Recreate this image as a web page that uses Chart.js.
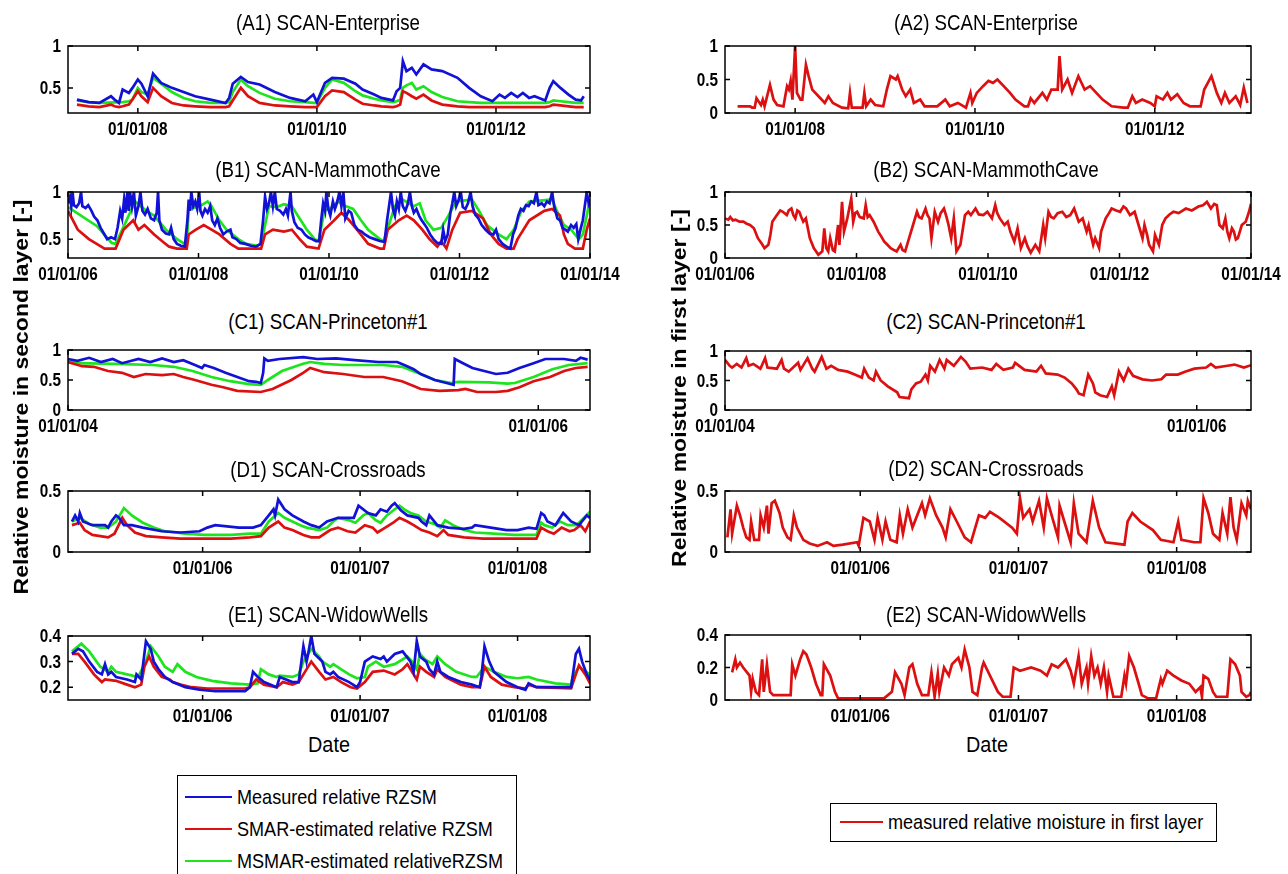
<!DOCTYPE html>
<html>
<head>
<meta charset="utf-8">
<script src="https://cdn.jsdelivr.net/npm/chart.js@4.4.1/dist/chart.umd.min.js"></script>
<style>
  body { margin: 0; background: #fff; width: 1288px; height: 874px; position: relative; overflow: hidden;
         font-family: 'Liberation Sans', Arial, sans-serif; color: #000; }
  canvas { position: absolute; }
  .title { position: absolute; width: 400px; text-align: center; font-size: 22px; line-height: 24px; white-space: nowrap;
           transform: scaleX(0.85); }
  .ylab { position: absolute; width: 500px; height: 26px; line-height: 26px; text-align: center; font-size: 23px;
          font-weight: bold; transform: rotate(-90deg) scaleY(0.85); white-space: nowrap; }
  .xlab { position: absolute; width: 200px; text-align: center; font-size: 22px; line-height: 24px; transform: scaleX(0.9); }
  .legend { position: absolute; border: 1.5px solid #000; background: #fff; }
  .entry { position: absolute; font-size: 21px; line-height: 24px; white-space: nowrap; transform: scaleX(0.86); transform-origin: 0 50%; }
  .swatch { position: absolute; height: 0; border-top: 2.5px solid; }
</style>
</head>
<body>
<script>
// Colours
const BLUE = '#1212d6';
const RED = '#dc1010';
const GREEN = '#1ee41e';

// Tick values
const xTicksA = [2008, 2010, 2012];
const xTicksB = [2006, 2008, 2010, 2012, 2014];
const xTicksC = [2004, 2006];
const xTicksDE = [2006, 2007, 2008];

// Series: [decimal year, relative moisture]
// (A1/A2) SCAN-Enterprise
const a1Measured = [[2007.32,0.36],[2007.45,0.33],[2007.57,0.32],[2007.70,0.40],[2007.74,0.36],[2007.79,0.32],[2007.83,0.48],[2007.90,0.44],[2007.94,0.50],[2008.00,0.60],[2008.04,0.55],[2008.11,0.40],[2008.17,0.67],[2008.26,0.56],[2008.38,0.50],[2008.51,0.45],[2008.64,0.40],[2008.81,0.36],[2008.98,0.32],[2009.02,0.38],[2009.06,0.55],[2009.15,0.63],[2009.23,0.57],[2009.36,0.54],[2009.53,0.45],[2009.70,0.38],[2009.87,0.34],[2009.96,0.42],[2010.00,0.33],[2010.09,0.56],[2010.17,0.62],[2010.30,0.61],[2010.43,0.55],[2010.51,0.48],[2010.64,0.42],[2010.72,0.38],[2010.85,0.35],[2010.89,0.46],[2010.93,0.50],[2010.96,0.82],[2011.00,0.70],[2011.06,0.74],[2011.11,0.66],[2011.19,0.78],[2011.28,0.72],[2011.40,0.70],[2011.57,0.62],[2011.70,0.50],[2011.83,0.40],[2011.96,0.34],[2012.04,0.42],[2012.10,0.38],[2012.17,0.44],[2012.24,0.39],[2012.30,0.44],[2012.37,0.38],[2012.43,0.40],[2012.55,0.35],[2012.60,0.50],[2012.64,0.58],[2012.72,0.50],[2012.81,0.42],[2012.89,0.36],[2012.95,0.35],[2012.98,0.40]];
const a1Smar = [[2007.32,0.30],[2007.45,0.28],[2007.57,0.27],[2007.70,0.30],[2007.74,0.28],[2007.79,0.27],[2007.83,0.28],[2007.90,0.30],[2007.94,0.36],[2008.00,0.46],[2008.04,0.40],[2008.11,0.33],[2008.17,0.50],[2008.26,0.40],[2008.38,0.32],[2008.51,0.29],[2008.64,0.28],[2008.81,0.27],[2008.98,0.27],[2009.02,0.28],[2009.06,0.35],[2009.15,0.50],[2009.23,0.40],[2009.36,0.32],[2009.53,0.29],[2009.70,0.28],[2009.87,0.27],[2009.96,0.27],[2010.00,0.27],[2010.09,0.40],[2010.17,0.47],[2010.30,0.45],[2010.43,0.36],[2010.51,0.31],[2010.64,0.29],[2010.72,0.28],[2010.85,0.27],[2010.89,0.28],[2010.93,0.30],[2010.96,0.46],[2011.00,0.44],[2011.06,0.40],[2011.11,0.37],[2011.19,0.42],[2011.28,0.35],[2011.40,0.30],[2011.57,0.28],[2011.70,0.27],[2011.83,0.27],[2011.96,0.27],[2012.04,0.27],[2012.30,0.27],[2012.55,0.27],[2012.60,0.28],[2012.64,0.30],[2012.72,0.29],[2012.81,0.28],[2012.89,0.27],[2012.98,0.27]];
const a1Msmar = [[2007.32,0.35],[2007.45,0.33],[2007.57,0.32],[2007.83,0.33],[2007.90,0.34],[2007.94,0.36],[2008.00,0.50],[2008.04,0.45],[2008.11,0.42],[2008.17,0.62],[2008.26,0.55],[2008.38,0.45],[2008.51,0.38],[2008.64,0.34],[2008.81,0.32],[2008.98,0.32],[2009.02,0.33],[2009.06,0.45],[2009.15,0.60],[2009.23,0.52],[2009.36,0.44],[2009.53,0.37],[2009.70,0.34],[2009.87,0.33],[2009.96,0.32],[2010.00,0.32],[2010.09,0.50],[2010.17,0.60],[2010.30,0.56],[2010.43,0.46],[2010.51,0.41],[2010.64,0.37],[2010.72,0.35],[2010.85,0.33],[2010.89,0.34],[2010.93,0.36],[2010.96,0.50],[2011.00,0.53],[2011.06,0.56],[2011.11,0.48],[2011.19,0.52],[2011.28,0.45],[2011.40,0.39],[2011.57,0.34],[2011.70,0.33],[2011.83,0.32],[2012.55,0.32],[2012.60,0.33],[2012.64,0.35],[2012.72,0.34],[2012.81,0.33],[2012.89,0.32],[2012.98,0.32]];
const a2Moisture = [[2007.36,0.10],[2007.50,0.10],[2007.52,0.08],[2007.55,0.08],[2007.57,0.22],[2007.62,0.12],[2007.64,0.20],[2007.66,0.10],[2007.72,0.42],[2007.76,0.20],[2007.80,0.12],[2007.87,0.10],[2007.91,0.40],[2007.93,0.35],[2007.95,0.48],[2007.97,0.20],[2008.00,1.00],[2008.02,0.30],[2008.06,0.20],[2008.08,0.20],[2008.12,0.72],[2008.15,0.55],[2008.19,0.35],[2008.26,0.25],[2008.33,0.15],[2008.37,0.25],[2008.42,0.15],[2008.52,0.08],[2008.59,0.07],[2008.61,0.30],[2008.63,0.08],[2008.75,0.08],[2008.77,0.30],[2008.79,0.10],[2008.84,0.20],[2008.89,0.12],[2008.98,0.10],[2009.02,0.35],[2009.06,0.55],[2009.12,0.50],[2009.14,0.55],[2009.19,0.35],[2009.23,0.25],[2009.28,0.35],[2009.32,0.15],[2009.39,0.20],[2009.44,0.10],[2009.58,0.10],[2009.67,0.20],[2009.72,0.10],[2009.81,0.15],[2009.90,0.08],[2009.95,0.30],[2009.97,0.15],[2010.02,0.30],[2010.09,0.40],[2010.15,0.48],[2010.20,0.45],[2010.25,0.50],[2010.32,0.40],[2010.39,0.30],[2010.45,0.20],[2010.55,0.10],[2010.59,0.10],[2010.62,0.22],[2010.66,0.15],[2010.75,0.30],[2010.80,0.20],[2010.85,0.35],[2010.92,0.35],[2010.94,0.85],[2010.97,0.35],[2011.03,0.50],[2011.08,0.30],[2011.15,0.55],[2011.22,0.35],[2011.28,0.40],[2011.35,0.30],[2011.42,0.20],[2011.52,0.10],[2011.65,0.08],[2011.70,0.08],[2011.75,0.25],[2011.79,0.15],[2011.86,0.20],[2011.95,0.15],[2012.00,0.10],[2012.02,0.25],[2012.09,0.20],[2012.14,0.30],[2012.18,0.20],[2012.25,0.28],[2012.32,0.15],[2012.39,0.10],[2012.51,0.10],[2012.55,0.35],[2012.63,0.55],[2012.69,0.30],[2012.74,0.15],[2012.78,0.30],[2012.83,0.15],[2012.90,0.25],[2012.95,0.12],[2012.99,0.38],[2013.03,0.15]];

// (B1/B2) SCAN-MammothCave
const b1Measured = [[2006.00,0.88],[2006.03,0.95],[2006.05,0.85],[2006.07,1.00],[2006.09,0.86],[2006.13,0.84],[2006.17,0.88],[2006.20,1.00],[2006.22,0.85],[2006.27,0.83],[2006.31,0.86],[2006.36,0.80],[2006.40,0.74],[2006.45,0.70],[2006.50,0.62],[2006.55,0.56],[2006.60,0.50],[2006.66,0.52],[2006.72,0.50],[2006.76,0.62],[2006.80,0.80],[2006.83,0.72],[2006.86,0.92],[2006.88,0.78],[2006.91,1.00],[2006.93,0.80],[2006.95,1.00],[2006.98,0.85],[2007.01,1.00],[2007.04,0.75],[2007.08,0.85],[2007.11,1.00],[2007.14,0.80],[2007.18,0.76],[2007.22,0.82],[2007.27,0.72],[2007.32,0.70],[2007.36,0.78],[2007.38,1.00],[2007.40,0.70],[2007.44,0.60],[2007.50,0.56],[2007.55,0.55],[2007.58,0.62],[2007.62,0.50],[2007.67,0.45],[2007.73,0.43],[2007.79,0.42],[2007.83,0.70],[2007.85,0.92],[2007.87,0.80],[2007.89,1.00],[2007.92,0.85],[2007.95,0.90],[2007.98,0.82],[2008.01,1.00],[2008.03,0.80],[2008.06,0.75],[2008.10,0.82],[2008.14,0.78],[2008.18,0.85],[2008.21,0.70],[2008.25,0.65],[2008.29,0.72],[2008.33,0.62],[2008.38,0.55],[2008.43,0.58],[2008.49,0.60],[2008.52,0.52],[2008.58,0.50],[2008.64,0.46],[2008.72,0.45],[2008.80,0.43],[2008.88,0.42],[2008.95,0.45],[2008.99,0.70],[2009.02,0.95],[2009.05,0.82],[2009.08,0.88],[2009.11,1.00],[2009.14,0.85],[2009.17,1.00],[2009.20,0.82],[2009.25,0.80],[2009.30,0.76],[2009.34,0.82],[2009.37,0.75],[2009.41,1.00],[2009.43,0.80],[2009.47,0.68],[2009.52,0.62],[2009.58,0.60],[2009.63,0.55],[2009.68,0.52],[2009.74,0.50],[2009.80,0.48],[2009.85,0.48],[2009.88,0.70],[2009.91,0.88],[2009.94,0.80],[2009.96,1.00],[2009.99,0.82],[2010.02,0.75],[2010.06,0.90],[2010.09,0.82],[2010.12,0.88],[2010.16,1.00],[2010.19,0.85],[2010.22,1.00],[2010.25,0.72],[2010.30,0.80],[2010.34,0.78],[2010.39,0.65],[2010.44,0.60],[2010.50,0.58],[2010.55,0.55],[2010.62,0.52],[2010.70,0.50],[2010.78,0.48],[2010.85,0.47],[2010.89,0.70],[2010.92,0.85],[2010.95,1.00],[2010.98,0.82],[2011.01,0.75],[2011.04,0.90],[2011.07,0.82],[2011.10,1.00],[2011.13,0.85],[2011.17,0.80],[2011.21,0.88],[2011.24,1.00],[2011.27,0.85],[2011.30,0.78],[2011.34,0.82],[2011.38,0.75],[2011.42,0.70],[2011.46,0.66],[2011.50,0.62],[2011.55,0.55],[2011.60,0.50],[2011.66,0.46],[2011.72,0.45],[2011.75,0.60],[2011.78,0.48],[2011.82,0.55],[2011.86,0.78],[2011.89,0.88],[2011.92,1.00],[2011.95,0.85],[2011.98,0.90],[2012.02,1.00],[2012.05,0.84],[2012.09,0.82],[2012.13,0.88],[2012.17,1.00],[2012.20,0.85],[2012.24,0.76],[2012.29,0.72],[2012.34,0.65],[2012.40,0.60],[2012.46,0.56],[2012.52,0.55],[2012.56,0.60],[2012.60,0.50],[2012.66,0.45],[2012.72,0.42],[2012.78,0.40],[2012.82,0.55],[2012.86,0.62],[2012.90,0.75],[2012.94,0.82],[2012.98,0.80],[2013.02,0.86],[2013.06,0.85],[2013.10,0.90],[2013.14,0.88],[2013.18,1.00],[2013.21,0.86],[2013.26,0.88],[2013.30,0.85],[2013.34,0.90],[2013.38,0.88],[2013.42,1.00],[2013.45,0.85],[2013.50,0.72],[2013.54,0.70],[2013.58,0.62],[2013.62,0.60],[2013.66,0.58],[2013.71,0.65],[2013.75,0.62],[2013.79,0.66],[2013.82,0.50],[2013.86,0.62],[2013.89,0.70],[2013.92,0.85],[2013.95,1.00],[2013.98,0.88],[2014.00,0.92]];
const b1Smar = [[2006.00,0.80],[2006.15,0.60],[2006.32,0.50],[2006.44,0.45],[2006.56,0.40],[2006.73,0.40],[2006.85,0.60],[2007.00,0.70],[2007.08,0.60],[2007.17,0.65],[2007.32,0.55],[2007.44,0.48],[2007.55,0.42],[2007.67,0.40],[2007.82,0.40],[2007.85,0.55],[2007.96,0.60],[2008.08,0.65],[2008.20,0.60],[2008.32,0.55],[2008.49,0.45],[2008.61,0.40],[2008.96,0.40],[2009.02,0.55],[2009.14,0.60],[2009.31,0.58],[2009.43,0.60],[2009.55,0.50],[2009.66,0.42],[2009.84,0.40],[2009.93,0.60],[2010.08,0.70],[2010.19,0.78],[2010.31,0.70],[2010.43,0.60],[2010.60,0.45],[2010.78,0.40],[2010.84,0.40],[2010.90,0.60],[2011.07,0.70],[2011.19,0.75],[2011.30,0.70],[2011.43,0.60],[2011.54,0.50],[2011.66,0.42],[2011.72,0.48],[2011.80,0.40],[2011.89,0.60],[2012.01,0.78],[2012.19,0.80],[2012.36,0.72],[2012.48,0.55],[2012.60,0.45],[2012.72,0.40],[2012.83,0.40],[2012.89,0.50],[2013.07,0.70],[2013.30,0.80],[2013.42,0.82],[2013.54,0.75],[2013.60,0.55],[2013.66,0.45],[2013.77,0.40],[2013.89,0.40],[2013.95,0.60],[2014.00,0.72]];
const b1Msmar = [[2006.00,0.84],[2006.44,0.64],[2006.67,0.46],[2006.73,0.45],[2007.03,0.90],[2007.20,0.80],[2007.32,0.75],[2007.50,0.60],[2007.67,0.50],[2007.79,0.45],[2007.82,0.45],[2007.85,0.82],[2008.02,0.85],[2008.14,0.90],[2008.20,0.85],[2008.32,0.70],[2008.43,0.60],[2008.61,0.50],[2008.73,0.45],[2008.90,0.43],[2008.96,0.45],[2009.08,0.85],[2009.20,0.84],[2009.31,0.87],[2009.43,0.85],[2009.55,0.72],[2009.66,0.60],[2009.78,0.50],[2009.84,0.48],[2009.93,0.80],[2010.08,0.85],[2010.13,0.90],[2010.25,0.85],[2010.37,0.82],[2010.49,0.70],[2010.60,0.60],[2010.78,0.50],[2010.84,0.48],[2011.01,0.85],[2011.13,0.92],[2011.30,0.85],[2011.39,0.88],[2011.48,0.70],[2011.60,0.60],[2011.72,0.62],[2011.83,0.75],[2011.95,0.90],[2012.19,0.92],[2012.30,0.80],[2012.42,0.65],[2012.60,0.55],[2012.72,0.50],[2012.83,0.60],[2012.95,0.80],[2013.07,0.90],[2013.42,0.92],[2013.48,0.82],[2013.60,0.65],[2013.71,0.60],[2013.83,0.50],[2013.89,0.55],[2013.95,0.75],[2014.00,0.92]];
const b2Moisture = [[2006.00,0.60],[2006.05,0.58],[2006.08,0.62],[2006.12,0.57],[2006.16,0.58],[2006.22,0.55],[2006.28,0.55],[2006.33,0.52],[2006.38,0.50],[2006.44,0.45],[2006.50,0.30],[2006.57,0.20],[2006.60,0.15],[2006.66,0.20],[2006.69,0.35],[2006.72,0.55],[2006.79,0.65],[2006.84,0.72],[2006.88,0.70],[2006.94,0.65],[2006.97,0.72],[2007.01,0.75],[2007.04,0.65],[2007.07,0.60],[2007.10,0.72],[2007.13,0.70],[2007.16,0.62],[2007.19,0.55],[2007.23,0.60],[2007.29,0.30],[2007.35,0.15],[2007.42,0.05],[2007.48,0.10],[2007.51,0.45],[2007.54,0.15],[2007.57,0.10],[2007.60,0.30],[2007.64,0.12],[2007.67,0.10],[2007.72,0.50],[2007.74,0.20],[2007.78,0.85],[2007.81,0.40],[2007.86,0.60],[2007.89,0.75],[2007.92,0.90],[2007.95,0.55],[2007.98,0.68],[2008.01,0.70],[2008.05,0.62],[2008.11,0.60],[2008.14,0.80],[2008.17,0.62],[2008.20,0.65],[2008.26,0.55],[2008.33,0.40],[2008.38,0.32],[2008.42,0.25],[2008.47,0.20],[2008.52,0.15],[2008.57,0.12],[2008.61,0.10],[2008.67,0.20],[2008.70,0.12],[2008.74,0.10],[2008.80,0.30],[2008.86,0.50],[2008.92,0.70],[2008.95,0.62],[2008.99,0.60],[2009.05,0.75],[2009.08,0.65],[2009.11,0.60],[2009.14,0.30],[2009.19,0.70],[2009.24,0.55],[2009.28,0.68],[2009.33,0.75],[2009.37,0.62],[2009.40,0.50],[2009.44,0.30],[2009.48,0.60],[2009.52,0.10],[2009.58,0.20],[2009.65,0.65],[2009.70,0.70],[2009.74,0.65],[2009.81,0.75],[2009.86,0.66],[2009.93,0.65],[2009.99,0.70],[2010.06,0.60],[2010.11,0.80],[2010.14,0.68],[2010.18,0.60],[2010.25,0.50],[2010.30,0.55],[2010.34,0.40],[2010.40,0.25],[2010.45,0.45],[2010.50,0.15],[2010.56,0.30],[2010.60,0.18],[2010.65,0.08],[2010.72,0.20],[2010.78,0.10],[2010.84,0.50],[2010.87,0.30],[2010.92,0.70],[2010.96,0.62],[2011.00,0.60],[2011.06,0.68],[2011.13,0.70],[2011.19,0.62],[2011.25,0.65],[2011.31,0.75],[2011.38,0.55],[2011.44,0.60],[2011.50,0.40],[2011.53,0.50],[2011.57,0.32],[2011.60,0.20],[2011.63,0.30],[2011.69,0.15],[2011.72,0.40],[2011.79,0.60],[2011.84,0.68],[2011.88,0.75],[2011.95,0.72],[2012.01,0.70],[2012.06,0.78],[2012.10,0.75],[2012.16,0.65],[2012.23,0.70],[2012.29,0.50],[2012.35,0.30],[2012.38,0.50],[2012.42,0.35],[2012.45,0.20],[2012.51,0.10],[2012.54,0.35],[2012.60,0.20],[2012.65,0.50],[2012.70,0.60],[2012.76,0.66],[2012.82,0.70],[2012.90,0.68],[2013.01,0.75],[2013.10,0.72],[2013.20,0.78],[2013.27,0.80],[2013.33,0.85],[2013.39,0.75],[2013.44,0.82],[2013.48,0.80],[2013.52,0.50],[2013.57,0.45],[2013.61,0.60],[2013.64,0.40],[2013.67,0.30],[2013.71,0.45],[2013.74,0.40],[2013.77,0.28],[2013.80,0.30],[2013.86,0.50],[2013.92,0.55],[2013.97,0.70],[2014.00,0.82]];

// (C1/C2) SCAN-Princeton#1
const c1Measured = [[2004.00,0.85],[2004.04,0.82],[2004.09,0.87],[2004.14,0.80],[2004.19,0.85],[2004.23,0.78],[2004.30,0.85],[2004.35,0.80],[2004.40,0.86],[2004.45,0.80],[2004.49,0.83],[2004.54,0.75],[2004.57,0.70],[2004.58,0.75],[2004.62,0.70],[2004.67,0.62],[2004.72,0.55],[2004.77,0.48],[2004.80,0.47],[2004.82,0.45],[2004.83,0.62],[2004.835,0.86],[2004.85,0.82],[2004.90,0.85],[2005.00,0.88],[2005.06,0.85],[2005.14,0.86],[2005.22,0.83],[2005.32,0.80],[2005.40,0.80],[2005.43,0.75],[2005.47,0.68],[2005.50,0.60],[2005.53,0.55],[2005.56,0.50],[2005.61,0.45],[2005.64,0.42],[2005.645,0.85],[2005.68,0.78],[2005.72,0.70],[2005.77,0.65],[2005.82,0.60],[2005.87,0.62],[2005.92,0.70],[2005.98,0.78],[2006.03,0.85],[2006.11,0.85],[2006.16,0.82],[2006.18,0.87],[2006.21,0.84]];
const c1Smar = [[2004.00,0.80],[2004.06,0.73],[2004.11,0.72],[2004.17,0.65],[2004.23,0.62],[2004.28,0.55],[2004.33,0.60],[2004.40,0.58],[2004.45,0.60],[2004.49,0.55],[2004.54,0.50],[2004.61,0.42],[2004.66,0.38],[2004.72,0.32],[2004.82,0.30],[2004.87,0.35],[2004.95,0.50],[2005.00,0.62],[2005.03,0.70],[2005.09,0.63],[2005.17,0.60],[2005.26,0.55],[2005.34,0.55],[2005.42,0.48],[2005.47,0.40],[2005.50,0.35],[2005.58,0.32],[2005.66,0.33],[2005.69,0.35],[2005.74,0.30],[2005.82,0.30],[2005.87,0.32],[2005.92,0.38],[2005.98,0.48],[2006.05,0.55],[2006.11,0.65],[2006.16,0.70],[2006.21,0.72]];
const c1Msmar = [[2004.00,0.82],[2004.04,0.78],[2004.20,0.77],[2004.36,0.75],[2004.45,0.72],[2004.53,0.65],[2004.61,0.55],[2004.69,0.48],[2004.77,0.43],[2004.82,0.42],[2004.85,0.50],[2004.91,0.65],[2005.00,0.77],[2005.03,0.80],[2005.09,0.77],[2005.17,0.75],[2005.34,0.75],[2005.42,0.72],[2005.50,0.60],[2005.56,0.50],[2005.63,0.45],[2005.66,0.47],[2005.79,0.46],[2005.87,0.44],[2005.90,0.45],[2005.98,0.55],[2006.06,0.68],[2006.13,0.75],[2006.21,0.78]];
const c2Moisture = [[2004.00,0.85],[2004.02,0.75],[2004.03,0.72],[2004.05,0.78],[2004.07,0.72],[2004.09,0.88],[2004.10,0.75],[2004.12,0.78],[2004.15,0.70],[2004.17,0.88],[2004.18,0.72],[2004.22,0.70],[2004.24,0.85],[2004.25,0.70],[2004.27,0.65],[2004.31,0.80],[2004.32,0.68],[2004.35,0.88],[2004.37,0.70],[2004.38,0.65],[2004.41,0.90],[2004.43,0.70],[2004.45,0.75],[2004.48,0.68],[2004.52,0.65],[2004.55,0.60],[2004.58,0.55],[2004.59,0.70],[2004.61,0.55],[2004.63,0.50],[2004.64,0.65],[2004.66,0.50],[2004.69,0.40],[2004.73,0.30],[2004.74,0.22],[2004.78,0.20],[2004.79,0.35],[2004.81,0.45],[2004.83,0.48],[2004.85,0.60],[2004.86,0.50],[2004.87,0.75],[2004.89,0.65],[2004.91,0.85],[2004.93,0.70],[2004.94,0.85],[2004.97,0.75],[2005.00,0.90],[2005.02,0.82],[2005.04,0.70],[2005.09,0.72],[2005.13,0.68],[2005.15,0.78],[2005.18,0.68],[2005.22,0.72],[2005.23,0.80],[2005.27,0.68],[2005.32,0.65],[2005.34,0.75],[2005.36,0.62],[2005.41,0.60],[2005.44,0.55],[2005.47,0.45],[2005.49,0.35],[2005.50,0.28],[2005.52,0.25],[2005.54,0.60],[2005.56,0.45],[2005.57,0.30],[2005.59,0.25],[2005.62,0.22],[2005.64,0.40],[2005.65,0.25],[2005.67,0.65],[2005.69,0.50],[2005.71,0.70],[2005.73,0.58],[2005.77,0.52],[2005.81,0.50],[2005.85,0.52],[2005.87,0.60],[2005.92,0.60],[2005.95,0.65],[2005.99,0.70],[2006.04,0.72],[2006.06,0.78],[2006.08,0.72],[2006.13,0.75],[2006.16,0.77],[2006.20,0.72],[2006.23,0.76]];

// (D1/D2) SCAN-Crossroads
const d1Measured = [[2005.17,0.25],[2005.19,0.30],[2005.21,0.25],[2005.22,0.32],[2005.24,0.25],[2005.30,0.22],[2005.38,0.22],[2005.40,0.20],[2005.42,0.25],[2005.45,0.30],[2005.47,0.28],[2005.50,0.22],[2005.55,0.22],[2005.62,0.20],[2005.74,0.17],[2005.86,0.16],[2005.98,0.17],[2006.03,0.20],[2006.08,0.22],[2006.23,0.20],[2006.32,0.20],[2006.37,0.22],[2006.42,0.30],[2006.45,0.35],[2006.46,0.30],[2006.48,0.43],[2006.52,0.35],[2006.57,0.30],[2006.64,0.25],[2006.69,0.22],[2006.74,0.20],[2006.79,0.25],[2006.86,0.28],[2006.96,0.28],[2006.99,0.38],[2007.05,0.32],[2007.10,0.30],[2007.13,0.35],[2007.17,0.33],[2007.20,0.38],[2007.22,0.40],[2007.26,0.34],[2007.30,0.30],[2007.37,0.28],[2007.39,0.25],[2007.42,0.22],[2007.44,0.30],[2007.49,0.22],[2007.56,0.20],[2007.66,0.19],[2007.71,0.20],[2007.73,0.22],[2007.83,0.20],[2007.93,0.18],[2008.00,0.18],[2008.07,0.20],[2008.12,0.19],[2008.15,0.32],[2008.17,0.30],[2008.19,0.25],[2008.24,0.22],[2008.29,0.32],[2008.34,0.25],[2008.39,0.22],[2008.44,0.30],[2008.46,0.28]];
const d1Smar = [[2005.17,0.22],[2005.22,0.24],[2005.25,0.18],[2005.30,0.14],[2005.40,0.12],[2005.44,0.15],[2005.49,0.28],[2005.52,0.22],[2005.57,0.16],[2005.64,0.13],[2005.74,0.12],[2005.86,0.11],[2006.18,0.11],[2006.30,0.12],[2006.37,0.13],[2006.42,0.20],[2006.48,0.25],[2006.52,0.20],[2006.57,0.18],[2006.64,0.14],[2006.69,0.12],[2006.74,0.12],[2006.81,0.18],[2006.86,0.20],[2006.92,0.17],[2006.97,0.16],[2007.03,0.22],[2007.08,0.20],[2007.11,0.16],[2007.16,0.20],[2007.21,0.24],[2007.25,0.28],[2007.30,0.25],[2007.34,0.22],[2007.39,0.18],[2007.44,0.16],[2007.49,0.13],[2007.53,0.18],[2007.56,0.14],[2007.66,0.12],[2007.78,0.11],[2008.12,0.11],[2008.15,0.20],[2008.19,0.17],[2008.23,0.15],[2008.28,0.20],[2008.33,0.17],[2008.36,0.18],[2008.40,0.22],[2008.43,0.17],[2008.46,0.25]];
const d1Msmar = [[2005.17,0.25],[2005.22,0.28],[2005.28,0.23],[2005.35,0.20],[2005.40,0.20],[2005.45,0.25],[2005.50,0.36],[2005.55,0.30],[2005.62,0.24],[2005.69,0.20],[2005.76,0.17],[2005.89,0.15],[2006.01,0.14],[2006.18,0.14],[2006.30,0.15],[2006.37,0.15],[2006.42,0.25],[2006.48,0.32],[2006.52,0.28],[2006.57,0.25],[2006.62,0.22],[2006.66,0.20],[2006.74,0.18],[2006.79,0.20],[2006.83,0.25],[2006.86,0.28],[2006.93,0.26],[2006.97,0.24],[2007.02,0.30],[2007.05,0.32],[2007.10,0.26],[2007.13,0.24],[2007.17,0.30],[2007.22,0.35],[2007.25,0.38],[2007.28,0.35],[2007.32,0.32],[2007.37,0.30],[2007.42,0.25],[2007.47,0.23],[2007.51,0.20],[2007.54,0.26],[2007.59,0.22],[2007.66,0.18],[2007.73,0.16],[2007.85,0.15],[2007.98,0.14],[2008.12,0.14],[2008.15,0.24],[2008.17,0.22],[2008.22,0.20],[2008.27,0.25],[2008.32,0.22],[2008.37,0.22],[2008.39,0.24],[2008.46,0.33]];
const d2Moisture = [[2005.16,0.12],[2005.18,0.35],[2005.19,0.15],[2005.22,0.38],[2005.24,0.30],[2005.26,0.20],[2005.28,0.12],[2005.30,0.10],[2005.31,0.25],[2005.33,0.10],[2005.36,0.10],[2005.37,0.30],[2005.39,0.20],[2005.41,0.38],[2005.42,0.15],[2005.44,0.40],[2005.46,0.42],[2005.49,0.32],[2005.51,0.20],[2005.54,0.12],[2005.56,0.10],[2005.58,0.30],[2005.60,0.20],[2005.64,0.10],[2005.68,0.07],[2005.73,0.05],[2005.79,0.08],[2005.83,0.05],[2005.89,0.06],[2005.98,0.08],[2005.99,0.05],[2006.02,0.28],[2006.06,0.25],[2006.09,0.10],[2006.11,0.28],[2006.14,0.10],[2006.16,0.25],[2006.19,0.10],[2006.23,0.08],[2006.25,0.30],[2006.27,0.15],[2006.30,0.35],[2006.33,0.20],[2006.39,0.40],[2006.41,0.30],[2006.44,0.44],[2006.48,0.30],[2006.52,0.20],[2006.54,0.12],[2006.57,0.35],[2006.61,0.25],[2006.66,0.12],[2006.70,0.08],[2006.75,0.30],[2006.79,0.28],[2006.82,0.33],[2006.88,0.28],[2006.96,0.20],[2006.99,0.15],[2007.01,0.44],[2007.03,0.28],[2007.07,0.35],[2007.09,0.25],[2007.13,0.42],[2007.16,0.20],[2007.18,0.44],[2007.21,0.30],[2007.25,0.12],[2007.26,0.38],[2007.29,0.25],[2007.33,0.08],[2007.35,0.40],[2007.38,0.15],[2007.43,0.08],[2007.47,0.42],[2007.51,0.20],[2007.55,0.08],[2007.67,0.06],[2007.69,0.25],[2007.72,0.32],[2007.77,0.25],[2007.85,0.18],[2007.90,0.10],[2007.98,0.08],[2008.01,0.25],[2008.03,0.10],[2008.11,0.08],[2008.15,0.08],[2008.17,0.44],[2008.20,0.32],[2008.23,0.15],[2008.27,0.10],[2008.29,0.32],[2008.32,0.15],[2008.34,0.45],[2008.36,0.20],[2008.38,0.10],[2008.41,0.40],[2008.44,0.30],[2008.45,0.42],[2008.47,0.35]];

// (E1/E2) SCAN-WidowWells
const e1Measured = [[2005.17,0.33],[2005.21,0.35],[2005.24,0.34],[2005.28,0.30],[2005.33,0.26],[2005.36,0.25],[2005.38,0.29],[2005.40,0.25],[2005.42,0.26],[2005.45,0.24],[2005.52,0.23],[2005.57,0.22],[2005.58,0.25],[2005.61,0.23],[2005.63,0.33],[2005.64,0.38],[2005.67,0.35],[2005.69,0.30],[2005.72,0.27],[2005.76,0.24],[2005.81,0.22],[2005.89,0.20],[2005.98,0.19],[2006.08,0.185],[2006.27,0.185],[2006.30,0.20],[2006.32,0.26],[2006.35,0.24],[2006.39,0.22],[2006.47,0.20],[2006.49,0.24],[2006.57,0.22],[2006.61,0.22],[2006.64,0.36],[2006.66,0.30],[2006.67,0.33],[2006.69,0.40],[2006.71,0.33],[2006.76,0.30],[2006.78,0.26],[2006.81,0.25],[2006.83,0.26],[2006.86,0.24],[2006.93,0.22],[2006.98,0.20],[2007.00,0.22],[2007.03,0.30],[2007.08,0.32],[2007.13,0.31],[2007.15,0.32],[2007.17,0.30],[2007.22,0.33],[2007.27,0.34],[2007.32,0.30],[2007.34,0.26],[2007.36,0.38],[2007.38,0.32],[2007.42,0.30],[2007.44,0.27],[2007.47,0.25],[2007.49,0.30],[2007.51,0.26],[2007.56,0.24],[2007.64,0.22],[2007.71,0.21],[2007.76,0.20],[2007.77,0.24],[2007.79,0.36],[2007.82,0.30],[2007.85,0.26],[2007.93,0.22],[2008.00,0.20],[2008.05,0.19],[2008.07,0.215],[2008.12,0.20],[2008.34,0.20],[2008.37,0.33],[2008.39,0.35],[2008.41,0.30],[2008.44,0.25],[2008.46,0.23]];
const e1Smar = [[2005.17,0.33],[2005.21,0.33],[2005.25,0.30],[2005.31,0.25],[2005.36,0.22],[2005.38,0.23],[2005.45,0.225],[2005.52,0.21],[2005.57,0.20],[2005.61,0.21],[2005.63,0.28],[2005.66,0.32],[2005.69,0.28],[2005.74,0.24],[2005.79,0.23],[2005.81,0.22],[2005.86,0.21],[2005.93,0.20],[2006.03,0.195],[2006.27,0.195],[2006.30,0.20],[2006.34,0.23],[2006.39,0.21],[2006.47,0.20],[2006.51,0.22],[2006.57,0.21],[2006.61,0.22],[2006.65,0.26],[2006.69,0.30],[2006.74,0.26],[2006.78,0.23],[2006.83,0.24],[2006.88,0.22],[2006.94,0.20],[2006.98,0.195],[2007.03,0.22],[2007.08,0.26],[2007.15,0.265],[2007.22,0.25],[2007.27,0.27],[2007.30,0.29],[2007.33,0.26],[2007.36,0.23],[2007.38,0.28],[2007.42,0.26],[2007.47,0.24],[2007.49,0.27],[2007.54,0.24],[2007.64,0.21],[2007.71,0.20],[2007.76,0.20],[2007.79,0.28],[2007.83,0.24],[2007.90,0.21],[2007.98,0.20],[2008.05,0.195],[2008.07,0.21],[2008.12,0.20],[2008.34,0.195],[2008.37,0.25],[2008.39,0.285],[2008.43,0.25],[2008.46,0.215]];
const e1Msmar = [[2005.17,0.34],[2005.23,0.37],[2005.28,0.34],[2005.35,0.28],[2005.40,0.26],[2005.42,0.28],[2005.45,0.26],[2005.52,0.25],[2005.59,0.24],[2005.64,0.30],[2005.67,0.36],[2005.72,0.32],[2005.76,0.28],[2005.81,0.26],[2005.84,0.29],[2005.89,0.26],[2005.96,0.24],[2006.06,0.225],[2006.18,0.215],[2006.30,0.21],[2006.35,0.215],[2006.37,0.27],[2006.42,0.25],[2006.47,0.24],[2006.49,0.245],[2006.57,0.24],[2006.61,0.25],[2006.64,0.30],[2006.69,0.35],[2006.74,0.32],[2006.76,0.30],[2006.81,0.28],[2006.83,0.29],[2006.88,0.27],[2006.93,0.25],[2006.98,0.235],[2007.03,0.24],[2007.05,0.28],[2007.10,0.30],[2007.15,0.28],[2007.22,0.29],[2007.30,0.32],[2007.33,0.30],[2007.36,0.27],[2007.38,0.33],[2007.41,0.31],[2007.46,0.29],[2007.49,0.32],[2007.54,0.29],[2007.61,0.26],[2007.71,0.24],[2007.74,0.24],[2007.79,0.28],[2007.85,0.26],[2007.93,0.24],[2008.00,0.235],[2008.07,0.24],[2008.12,0.23],[2008.24,0.215],[2008.34,0.21],[2008.35,0.24],[2008.39,0.28],[2008.41,0.27],[2008.46,0.25]];
const e2Moisture = [[2005.19,0.17],[2005.21,0.25],[2005.22,0.20],[2005.24,0.23],[2005.26,0.20],[2005.30,0.15],[2005.31,0.05],[2005.32,0.13],[2005.34,0.05],[2005.36,0.03],[2005.38,0.25],[2005.39,0.05],[2005.41,0.22],[2005.43,0.05],[2005.45,0.03],[2005.56,0.03],[2005.57,0.22],[2005.59,0.15],[2005.62,0.25],[2005.64,0.30],[2005.66,0.28],[2005.69,0.20],[2005.72,0.10],[2005.75,0.03],[2005.76,0.03],[2005.77,0.22],[2005.81,0.15],[2005.84,0.05],[2005.86,0.01],[2006.15,0.01],[2006.20,0.05],[2006.22,0.17],[2006.26,0.10],[2006.28,0.03],[2006.31,0.20],[2006.33,0.22],[2006.36,0.10],[2006.39,0.03],[2006.43,0.03],[2006.45,0.17],[2006.47,0.02],[2006.49,0.16],[2006.50,0.05],[2006.53,0.20],[2006.56,0.15],[2006.58,0.22],[2006.62,0.26],[2006.64,0.20],[2006.66,0.31],[2006.69,0.20],[2006.71,0.05],[2006.74,0.03],[2006.77,0.20],[2006.78,0.23],[2006.82,0.15],[2006.87,0.05],[2006.90,0.02],[2006.95,0.02],[2006.97,0.20],[2007.01,0.18],[2007.08,0.20],[2007.14,0.18],[2007.18,0.15],[2007.21,0.22],[2007.25,0.20],[2007.30,0.25],[2007.33,0.18],[2007.35,0.10],[2007.38,0.27],[2007.40,0.10],[2007.43,0.20],[2007.44,0.10],[2007.46,0.27],[2007.48,0.15],[2007.50,0.20],[2007.52,0.10],[2007.54,0.20],[2007.56,0.05],[2007.57,0.15],[2007.60,0.02],[2007.65,0.02],[2007.67,0.15],[2007.68,0.10],[2007.70,0.27],[2007.73,0.20],[2007.76,0.10],[2007.78,0.03],[2007.82,0.01],[2007.87,0.01],[2007.90,0.13],[2007.91,0.10],[2007.94,0.18],[2007.98,0.15],[2008.03,0.12],[2008.08,0.10],[2008.12,0.05],[2008.15,0.08],[2008.16,0.02],[2008.17,0.15],[2008.20,0.13],[2008.23,0.05],[2008.25,0.02],[2008.32,0.02],[2008.34,0.25],[2008.37,0.22],[2008.40,0.15],[2008.41,0.05],[2008.44,0.02],[2008.46,0.03],[2008.47,0.05]];

// Panel layout (plot-box pixel rectangles) and axis ranges
const panels = [
  { box: [68, 46, 590, 113], x: [2007.22, 2013.05], xTicks: xTicksA, y: [0.2, 1], yTicks: [0.5, 1],
    series: [[a1Measured, BLUE], [a1Smar, RED], [a1Msmar, GREEN]] },
  { box: [725, 46, 1251, 113], x: [2007.22, 2013.07], xTicks: xTicksA, y: [0, 1], yTicks: [0, 0.5, 1],
    series: [[a2Moisture, RED]] },
  { box: [68, 192, 590, 258], x: [2006, 2014], xTicks: xTicksB, y: [0.3, 1], yTicks: [0.5, 1],
    series: [[b1Measured, BLUE], [b1Smar, RED], [b1Msmar, GREEN]] },
  { box: [725, 192, 1251, 258], x: [2006, 2014], xTicks: xTicksB, y: [0, 1], yTicks: [0, 0.5, 1],
    series: [[b2Moisture, RED]] },
  { box: [68, 350, 590, 410], x: [2004, 2006.22], xTicks: xTicksC, y: [0, 1], yTicks: [0, 0.5, 1],
    series: [[c1Measured, BLUE], [c1Smar, RED], [c1Msmar, GREEN]] },
  { box: [725, 351, 1251, 410], x: [2004, 2006.23], xTicks: xTicksC, y: [0, 1], yTicks: [0, 0.5, 1],
    series: [[c2Moisture, RED]] },
  { box: [68, 491, 590, 552], x: [2005.145, 2008.46], xTicks: xTicksDE, y: [0, 0.5], yTicks: [0, 0.5],
    series: [[d1Measured, BLUE], [d1Smar, RED], [d1Msmar, GREEN]] },
  { box: [725, 491, 1251, 552], x: [2005.145, 2008.47], xTicks: xTicksDE, y: [0, 0.5], yTicks: [0, 0.5],
    series: [[d2Moisture, RED]] },
  { box: [68, 636, 590, 700], x: [2005.145, 2008.46], xTicks: xTicksDE, y: [0.15, 0.4], yTicks: [0.2, 0.3, 0.4],
    series: [[e1Measured, BLUE], [e1Smar, RED], [e1Msmar, GREEN]] },
  { box: [725, 635, 1251, 700], x: [2005.145, 2008.47], xTicks: xTicksDE, y: [0, 0.4], yTicks: [0, 0.2, 0.4],
    series: [[e2Moisture, RED]] }
];

const titles = [
  ['(A1) SCAN-Enterprise', 328, 23], ['(A2) SCAN-Enterprise', 986, 23],
  ['(B1) SCAN-MammothCave', 328, 170], ['(B2) SCAN-MammothCave', 986, 170],
  ['(C1) SCAN-Princeton#1', 328, 322], ['(C2) SCAN-Princeton#1', 986, 322],
  ['(D1) SCAN-Crossroads', 328, 470], ['(D2) SCAN-Crossroads', 986, 469],
  ['(E1) SCAN-WidowWells', 328, 615], ['(E2) SCAN-WidowWells', 986, 615]
];

// Tick text is drawn by hand so it can be narrowed like the original (condensed) figure
const TICK_FONT = "bold 18px 'Liberation Sans', Arial, sans-serif";
const SQUEEZE = 0.85;

function squeezedText(ctx, text, x, y, align, baseline) {
  ctx.save();
  ctx.translate(x, y);
  ctx.scale(SQUEEZE, 1);
  ctx.textAlign = align;
  ctx.textBaseline = baseline;
  ctx.fillText(text, 0, 0);
  ctx.restore();
}

// Box around plot area, inward tick marks and tick labels (MATLAB style)
const boxPlugin = {
  id: 'matlabBox',
  afterDatasetsDraw(chart) {
    const { ctx, chartArea: a, scales } = chart;
    ctx.save();
    ctx.strokeStyle = '#000';
    ctx.lineWidth = 1.5;
    ctx.strokeRect(a.left, a.top, a.right - a.left, a.bottom - a.top);
    ctx.beginPath();
    scales.x.ticks.forEach(t => {
      const px = scales.x.getPixelForValue(t.value);
      ctx.moveTo(px, a.bottom); ctx.lineTo(px, a.bottom - 5);
      ctx.moveTo(px, a.top); ctx.lineTo(px, a.top + 5);
    });
    scales.y.ticks.forEach(t => {
      const py = scales.y.getPixelForValue(t.value);
      ctx.moveTo(a.left, py); ctx.lineTo(a.left + 5, py);
      ctx.moveTo(a.right, py); ctx.lineTo(a.right - 5, py);
    });
    ctx.stroke();
    ctx.fillStyle = '#000';
    ctx.font = TICK_FONT;
    scales.x.ticks.forEach(t => {
      const px = scales.x.getPixelForValue(t.value);
      squeezedText(ctx, '01/01/' + String(t.value % 100).padStart(2, '0'), px, a.bottom + 22, 'center', 'alphabetic');
    });
    scales.y.ticks.forEach(t => {
      const py = scales.y.getPixelForValue(t.value);
      squeezedText(ctx, String(t.value), a.left - 7, py + 6, 'right', 'alphabetic');
    });
    ctx.restore();
  }
};

function makePanel(p) {
  const padL = 50, padT = 12, padR = 40, padB = 30;
  const w = p.box[2] - p.box[0], h = p.box[3] - p.box[1];
  const canvas = document.createElement('canvas');
  canvas.width = w + padL + padR;
  canvas.height = h + padT + padB;
  canvas.style.left = (p.box[0] - padL) + 'px';
  canvas.style.top = (p.box[1] - padT) + 'px';
  document.body.appendChild(canvas);

  new Chart(canvas, {
    type: 'line',
    data: {
      datasets: p.series.map(([pts, color]) => ({
        data: pts.map(([x, y]) => ({ x, y })),
        borderColor: color,
        borderWidth: 2.7,
        pointRadius: 0,
        tension: 0,
        fill: false
      }))
    },
    options: {
      responsive: false,
      animation: false,
      events: [],
      layout: { padding: { top: padT, right: padR, left: 0, bottom: 0 } },
      plugins: { legend: { display: false }, tooltip: { enabled: false } },
      scales: {
        x: {
          type: 'linear', min: p.x[0], max: p.x[1],
          afterBuildTicks: s => { s.ticks = p.xTicks.map(v => ({ value: v })); },
          afterFit: s => { s.height = padB; },
          grid: { display: false, drawTicks: false },
          border: { display: false },
          ticks: { display: false }
        },
        y: {
          min: p.y[0], max: p.y[1],
          afterBuildTicks: s => { s.ticks = p.yTicks.map(v => ({ value: v })); },
          afterFit: s => { s.width = padL; },
          grid: { display: false, drawTicks: false },
          border: { display: false },
          ticks: { display: false }
        }
      }
    },
    plugins: [boxPlugin]
  });
}

function addDiv(cls, text, left, top) {
  const d = document.createElement('div');
  d.className = cls;
  d.textContent = text;
  d.style.left = left + 'px';
  d.style.top = top + 'px';
  document.body.appendChild(d);
  return d;
}

panels.forEach(makePanel);
titles.forEach(([t, cx, cy]) => addDiv('title', t, cx - 200, cy - 12));

// Axis labels
addDiv('ylab', 'Relative moisture in second layer [-]', 21 - 250, 397 - 13);
addDiv('ylab', 'Relative moisture in first layer [-]', 679 - 250, 388 - 13);
addDiv('xlab', 'Date', 329 - 100, 745 - 12);
addDiv('xlab', 'Date', 987 - 100, 745 - 12);

// Legends
const leftLegend = [['Measured relative RZSM', BLUE], ['SMAR-estimated relative RZSM', RED], ['MSMAR-estimated relativeRZSM', GREEN]];
const rightLegend = [['measured relative moisture in first layer', RED]];

function addLegend(entries, box, lineX, textX, rowY, rowGap) {
  const lg = document.createElement('div');
  lg.className = 'legend';
  lg.style.left = box[0] + 'px';
  lg.style.top = box[1] + 'px';
  lg.style.width = box[2] + 'px';
  lg.style.height = box[3] + 'px';
  document.body.appendChild(lg);
  entries.forEach(([label, color], i) => {
    const y = rowY + i * rowGap;
    const s = document.createElement('div');
    s.className = 'swatch';
    s.style.borderColor = color;
    s.style.left = lineX[0] + 'px';
    s.style.width = (lineX[1] - lineX[0]) + 'px';
    s.style.top = (y - 1) + 'px';
    document.body.appendChild(s);
    addDiv('entry', label, textX, y - 12);
  });
}

addLegend(leftLegend, [177, 775, 338, 120], [185, 232], 237, 797, 32);
addLegend(rightLegend, [830, 803, 385, 37], [840, 883], 888, 822, 0);
</script>
</body>
</html>
